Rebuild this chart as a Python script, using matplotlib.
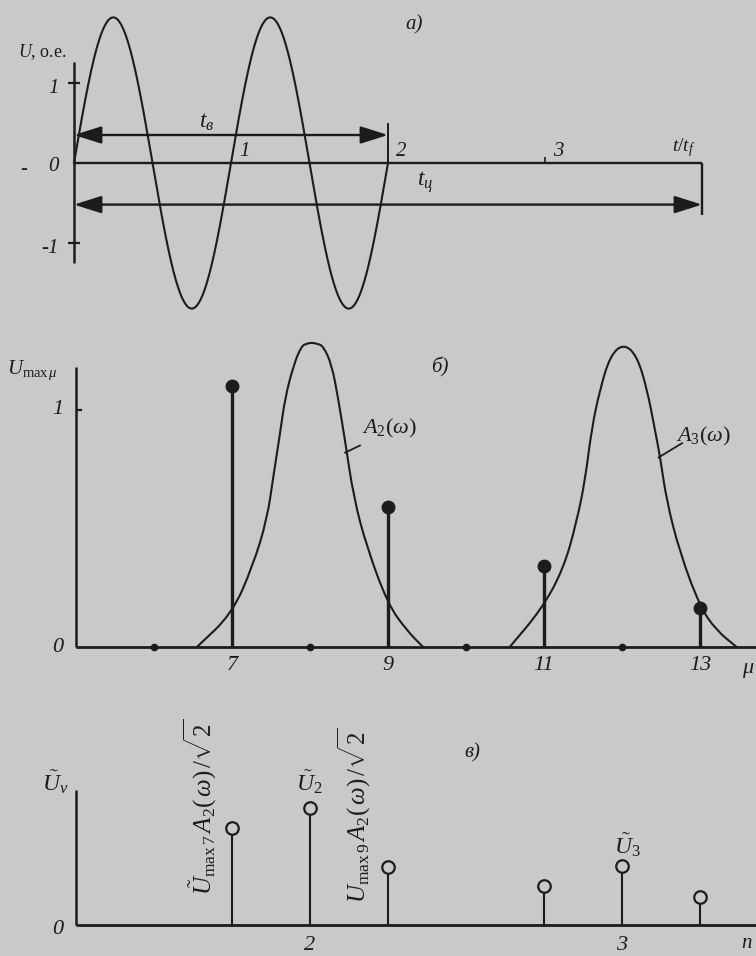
import numpy as np
import matplotlib

matplotlib.use("Agg")
import matplotlib.pyplot as plt
from matplotlib.path import Path
from matplotlib.patches import PathPatch

W, H = 756, 956
BG = "#c9c9c9"
INK = "#1c1c1c"

plt.rcParams["font.family"] = ["Liberation Serif", "DejaVu Serif"]
plt.rcParams["mathtext.fontset"] = "custom"
plt.rcParams["mathtext.rm"] = "Liberation Serif"
plt.rcParams["mathtext.it"] = "Liberation Serif:italic"
plt.rcParams["mathtext.bf"] = "Liberation Serif:bold"

# --- panel a: signal burst -------------------------------------------------
sig_amp = 1.82          # peak of U, o.e.
sig_periods = 2         # burst length in t/t_f
cycle_end = 4           # t_ц in t/t_f
a_ticks_u = [1, -1]
a_ticks_t = [1, 2, 3]

# --- panel б: line spectrum and filter curves ------------------------------
mu_lines = [7, 9, 11, 13]
u_lines = [1.10, 0.59, 0.34, 0.165]
mu_zero = [6, 8, 10, 12]
mu_labels = ["7", "9", "11", "13"]

a2_mu = [6.55, 7.00, 7.27, 7.45, 7.53, 7.62, 7.68, 7.79, 7.89, 7.96, 8.02,
         8.09, 8.17, 8.28, 8.36, 8.45, 8.56, 8.73, 9.00, 9.24, 9.45]
a2_val = [0.0, 0.14, 0.345, 0.54, 0.72, 0.91, 1.05, 1.19, 1.27, 1.28, 1.284,
          1.28, 1.27, 1.19, 1.05, 0.87, 0.63, 0.42, 0.18, 0.07, 0.0]
a3_mu = [10.56, 10.97, 11.25, 11.42, 11.53, 11.61, 11.72, 11.85, 12.02,
         12.19, 12.32, 12.42, 12.49, 12.57, 12.74, 13.00, 13.21, 13.47]
a3_val = [0.0, 0.16, 0.33, 0.53, 0.71, 0.92, 1.09, 1.23, 1.28,
          1.23, 1.09, 0.92, 0.80, 0.62, 0.40, 0.17, 0.07, 0.0]

# --- panel в: output spectrum ----------------------------------------------
n_lines = [1.75, 2.0, 2.25, 2.75, 3.0, 3.25]
u_out = [0.408, 0.492, 0.243, 0.166, 0.250, 0.119]
n_labels = ["2", "3"]


def add_panel(top, bottom, x_px, x_val, x_scale, y_px, y_scale):
    """Axes spanning the figure width; data units mapped to scan pixels."""
    ax = fig.add_axes([0, 1 - bottom / H, 1, (bottom - top) / H])
    ax.set_xlim(x_val - x_px / x_scale, x_val + (W - x_px) / x_scale)
    ax.set_ylim((y_px - bottom) / y_scale, (y_px - top) / y_scale)
    ax.axis("off")
    ax.patch.set_alpha(0)
    return ax


def ftext(x, y, s, size=15, **kw):
    kw.setdefault("ha", "center")
    kw.setdefault("va", "center")
    fig.text(x / W, 1 - y / H, s, fontsize=size, color=INK, **kw)


def smooth_curve(ax, xs, ys, **kw):
    # quadratic bezier through the midpoints, traced points as control points
    p = np.column_stack([xs, ys])
    mids = (p[:-1] + p[1:]) / 2
    verts = [p[0], mids[0]]
    codes = [Path.MOVETO, Path.LINETO]
    for i in range(1, len(p) - 1):
        verts += [p[i], mids[i]]
        codes += [Path.CURVE3, Path.CURVE3]
    verts.append(p[-1])
    codes.append(Path.LINETO)
    ax.add_patch(PathPatch(Path(verts, codes), fill=False, **kw))


fig = plt.figure(figsize=(W / 100, H / 100), dpi=100, facecolor=BG)

# ============================ panel a =======================================
ax = add_panel(0, 320, 74, 0, 157, 163, 80)
ax.vlines(0, -1.25, 1.26, color=INK, lw=1.8)
ax.hlines(a_ticks_u, -0.04, 0.04, color=INK, lw=1.6)
ax.hlines(0, 0, cycle_end, color=INK, lw=1.7)
ax.vlines(cycle_end, -0.65, 0, color=INK, lw=1.7)
ax.vlines(sig_periods, 0, 0.5, color=INK, lw=1.4)
ax.vlines(3, 0, 0.08, color=INK, lw=1.2)

t = np.linspace(0, sig_periods, 600)
ax.plot(t, sig_amp * np.sin(2 * np.pi * t), color=INK, lw=1.5)

arrow = dict(arrowstyle="<|-|>,head_length=1.2,head_width=0.38",
             mutation_scale=14, lw=1.7, color=INK, shrinkA=0, shrinkB=0)
ax.annotate("", xy=(sig_periods, 0.35), xytext=(0, 0.35), arrowprops=arrow)
ax.annotate("", xy=(cycle_end, -0.52), xytext=(0, -0.52), arrowprops=arrow)

for u in a_ticks_u:
    ax.text(-0.10, u - 0.07, str(u), fontsize=15, style="italic", color=INK,
            ha="right", va="center")
ax.text(-0.10, -0.04, "0", fontsize=15, style="italic", color=INK,
        ha="right", va="center")
ftext(24, 170, "-", size=15)
for tk in a_ticks_t:
    ax.text(tk + 0.05, 0.15, str(tk), fontsize=15, style="italic", color=INK,
            ha="left", va="center")

ftext(42, 52, r"$U$, о.е.", size=13)
ftext(207, 122, r"$t_{в}$", size=17)
ftext(425, 182, r"$t_{ц}$", size=17)
ftext(684, 148, r"$t/t_f$", size=14)
ftext(414, 25, "а)", size=15, style="italic")

# ============================ panel б =======================================
bx = add_panel(320, 690, 232, 7, 78, 647, 237)
bx.vlines(5, 0, 1.18, color=INK, lw=1.8)
bx.hlines(0, 5, 13.75, color=INK, lw=2.0)
bx.hlines(1, 5, 5.08, color=INK, lw=1.6)

smooth_curve(bx, a2_mu, a2_val, color=INK, lw=1.5)
smooth_curve(bx, a3_mu, a3_val, color=INK, lw=1.5)

bx.vlines(mu_lines, 0, u_lines, color=INK, lw=2.4)
bx.plot(mu_lines, u_lines, "o", ms=9, color=INK)
bx.plot(mu_zero, [0] * len(mu_zero), "o", ms=4.5, color=INK)

for m, s in zip(mu_lines, mu_labels):
    bx.text(m, -0.08, s, fontsize=16, style="italic", color=INK,
            ha="center", va="center")
ftext(754, 670, r"$\mu$", size=16, ha="right")
bx.text(4.77, 1.0, "1", fontsize=16, style="italic", color=INK,
        ha="center", va="center")
bx.text(4.77, 0.0, "0", fontsize=16, style="italic", color=INK,
        ha="center", va="center")

bx.plot([8.45, 8.64], [0.82, 0.85], color=INK, lw=1.3)
bx.plot([12.47, 12.77], [0.80, 0.86], color=INK, lw=1.3)
ftext(389, 428, r"$A_2(\omega)$", size=16)
ftext(703, 436, r"$A_3(\omega)$", size=16)
ftext(32, 370, r"$U_{\mathrm{max}\,\mu}$", size=15)
ftext(440, 367, "б)", size=15, style="italic")

# ============================ panel в =======================================
cx = add_panel(690, 956, 232, 1.75, 312, 925, 237)
cx.vlines(1.25, 0, 0.57, color=INK, lw=1.8)
cx.hlines(0, 1.25, 3.43, color=INK, lw=2.0)
cx.vlines(n_lines, 0, u_out, color=INK, lw=1.5)
cx.plot(n_lines, u_out, "o", ms=9, mfc=BG, mec=INK, mew=1.6)

for s in n_labels:
    cx.text(float(s), -0.085, s, fontsize=16, style="italic", color=INK,
            ha="center", va="center")
ftext(752, 944, "n", size=15, style="italic", ha="right")
cx.text(1.19, -0.02, "0", fontsize=16, style="italic", color=INK,
        ha="center", va="center")

ftext(55, 782, r"$\tilde{U}_\nu$", size=17)
ftext(309, 782, r"$\tilde{U}_2$", size=17)
ftext(627, 845, r"$\tilde{U}_3$", size=17)
ftext(472, 753, "в)", size=15, style="italic")
ftext(200, 807, r"$\tilde{U}_{\mathrm{max}\,7}\,A_2(\,\omega)\,/\sqrt{2}$",
      size=18, rotation=90)
ftext(354, 815, r"$U_{\mathrm{max}\,9}\,A_2(\,\omega)\,/\sqrt{2}$",
      size=18, rotation=90)

fig.savefig("out.png", dpi=100, facecolor=BG)
